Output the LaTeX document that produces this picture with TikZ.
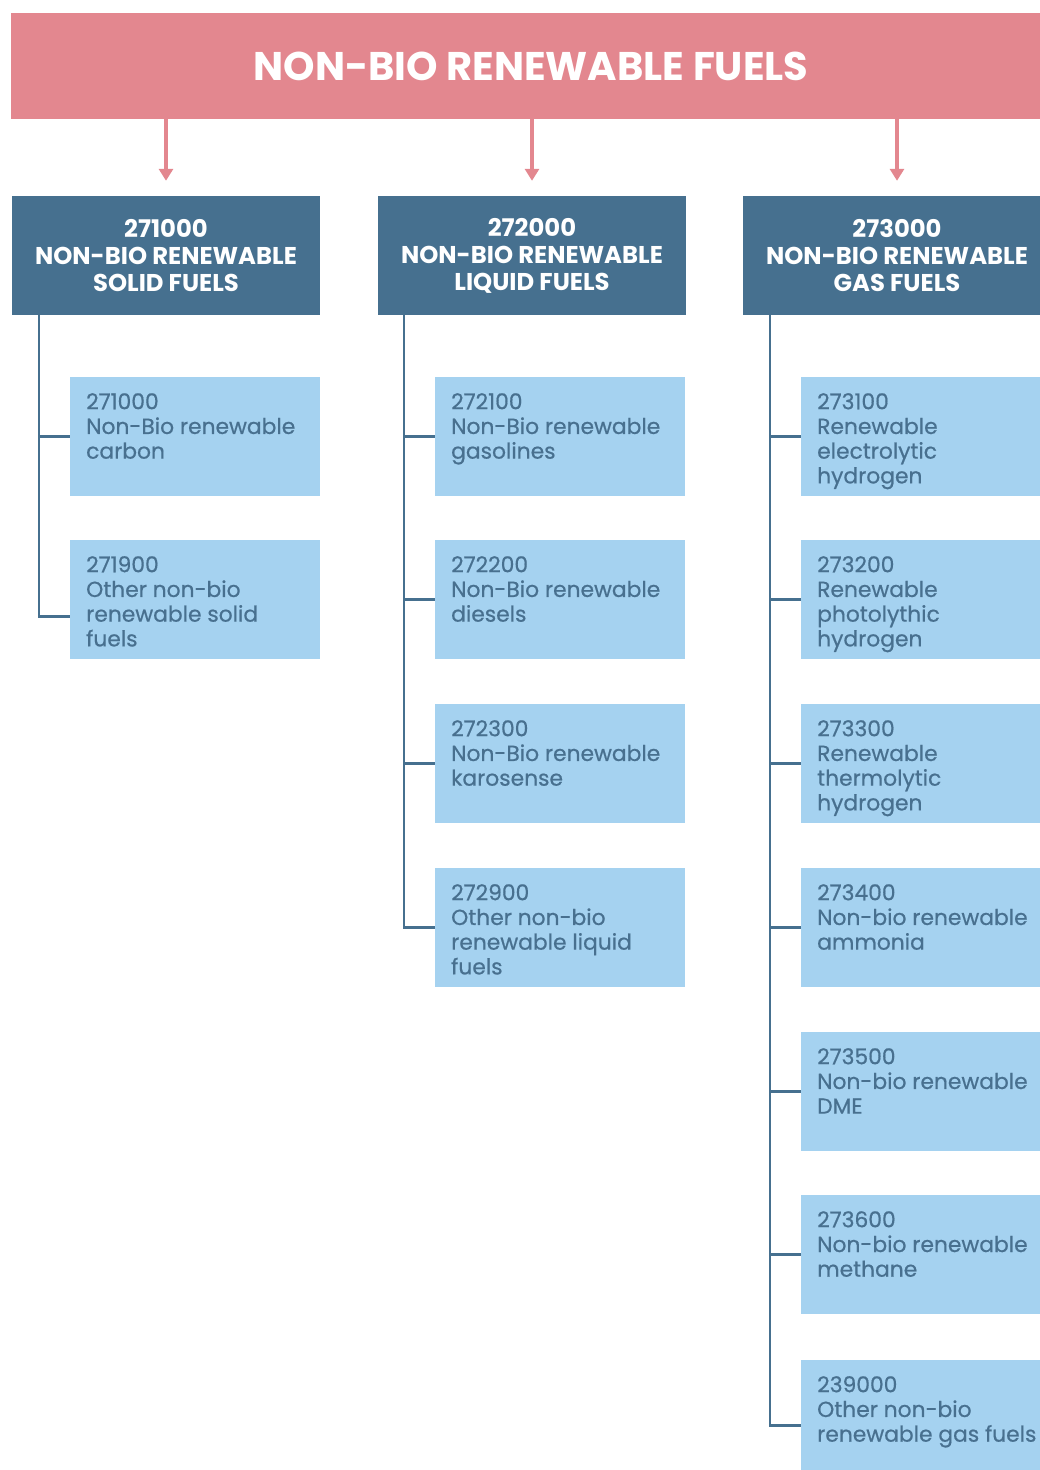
\documentclass[tikz,border=0pt]{standalone}
\usepackage{fontspec}
\setmainfont{Poppins}
\newfontfamily\subfont[FakeBold=0.6]{Poppins}
\usetikzlibrary{arrows.meta}

\definecolor{titlepink}{HTML}{E3878F}
\definecolor{headblue}{HTML}{46708F}
\definecolor{subblue}{HTML}{A5D2F0}
\definecolor{subink}{HTML}{48708F}

\tikzset{
  titlebox/.style={fill=titlepink, text=white, inner sep=0,
    minimum width=1040, minimum height=106,
    font=\bfseries\fontsize{40}{44}\selectfont},
  headbox/.style={fill=headblue, text=white, inner sep=0, align=center,
    minimum width=308, minimum height=119,
    font=\bfseries\fontsize{24.3}{27}\selectfont},
  subbox/.style={fill=subblue, inner sep=0, anchor=north west,
    minimum width=250, minimum height=119},
  subtext/.style={text=subink, inner sep=0, anchor=north west, align=left,
    font=\subfont\fontsize{21.8}{24.7}\selectfont},
  feed/.style={draw=titlepink, line width=4.5,
    -{Triangle[width=14,length=12]}},
  link/.style={draw=headblue, line width=2.5},
}

\begin{document}
\begin{tikzpicture}[x=1pt, y=-1pt]
    \useasboundingbox (0,0) rectangle (1039,1470);
    % top
    \node[titlebox] (title) at (531,66) {NON-BIO RENEWABLE FUELS};
    \node[headbox] (h1) at (166,255.5) {271000\\NON-BIO RENEWABLE\\SOLID FUELS};
    \node[headbox] (h2) at (532,255.5) {272000\\NON-BIO RENEWABLE\\LIQUID FUELS};
    \node[headbox] (h3) at (897,255.5) {273000\\NON-BIO RENEWABLE\\GAS FUELS};
    \draw[feed] (title.south -| h1) -- ([yshift=15]h1.north);
    \draw[feed] (title.south -| h2) -- ([yshift=15]h2.north);
    \draw[feed] (title.south -| h3) -- ([yshift=15]h3.north);
    % solid
    \node[subbox] (s11) at (70,377) {};
    \node[subbox] (s12) at (70,540) {};
    \node[subtext] (t11) at ([xshift=16,yshift=-16]s11.north west) {271000\\Non-Bio renewable\\carbon};
    \node[subtext] (t12) at ([xshift=16,yshift=-16]s12.north west) {271900\\Other non-bio\\renewable solid\\fuels};
    \draw[link] ([xshift=27]h1.south west) |- (s11.west);
    \draw[link] ([xshift=27]h1.south west) |- ([yshift=-17]s12.west);
    % liquid
    \node[subbox] (s21) at (435,377) {};
    \node[subbox] (s22) at (435,540) {};
    \node[subbox] (s23) at (435,704) {};
    \node[subbox] (s24) at (435,868) {};
    \node[subtext] (t21) at ([xshift=16,yshift=-16]s21.north west) {272100\\Non-Bio renewable\\gasolines};
    \node[subtext] (t22) at ([xshift=16,yshift=-16]s22.north west) {272200\\Non-Bio renewable\\diesels};
    \node[subtext] (t23) at ([xshift=16,yshift=-16]s23.north west) {272300\\Non-Bio renewable\\karosense};
    \node[subtext] (t24) at ([xshift=16,yshift=-16]s24.north west) {272900\\Other non-bio\\renewable liquid\\fuels};
    \draw[link] ([xshift=26]h2.south west) |- (s21.west);
    \draw[link] ([xshift=26]h2.south west) |- (s22.west);
    \draw[link] ([xshift=26]h2.south west) |- (s23.west);
    \draw[link] ([xshift=26]h2.south west) |- (s24.west);
    % gas
    \node[subbox] (s31) at (801,377) {};
    \node[subbox] (s32) at (801,540) {};
    \node[subbox] (s33) at (801,704) {};
    \node[subbox] (s34) at (801,868) {};
    \node[subbox] (s35) at (801,1032) {};
    \node[subbox] (s36) at (801,1195) {};
    \node[subbox] (s37) at (801,1360) {};
    \node[subtext] (t31) at ([xshift=16,yshift=-16]s31.north west) {273100\\Renewable\\electrolytic\\hydrogen};
    \node[subtext] (t32) at ([xshift=16,yshift=-16]s32.north west) {273200\\Renewable\\photolythic\\hydrogen};
    \node[subtext] (t33) at ([xshift=16,yshift=-16]s33.north west) {273300\\Renewable\\thermolytic\\hydrogen};
    \node[subtext] (t34) at ([xshift=16,yshift=-16]s34.north west) {273400\\Non-bio renewable\\ammonia};
    \node[subtext] (t35) at ([xshift=16,yshift=-16]s35.north west) {273500\\Non-bio renewable\\DME};
    \node[subtext] (t36) at ([xshift=16,yshift=-16]s36.north west) {273600\\Non-bio renewable\\methane};
    \node[subtext] (t37) at ([xshift=16,yshift=-16]s37.north west) {239000\\Other non-bio\\renewable gas fuels};
    \draw[link] ([xshift=27]h3.south west) |- (s31.west);
    \draw[link] ([xshift=27]h3.south west) |- (s32.west);
    \draw[link] ([xshift=27]h3.south west) |- (s33.west);
    \draw[link] ([xshift=27]h3.south west) |- (s34.west);
    \draw[link] ([xshift=27]h3.south west) |- (s35.west);
    \draw[link] ([xshift=27]h3.south west) |- (s36.west);
    \draw[link] ([xshift=27]h3.south west) |- ([yshift=-6]s37.west);
\end{tikzpicture}
\end{document}
